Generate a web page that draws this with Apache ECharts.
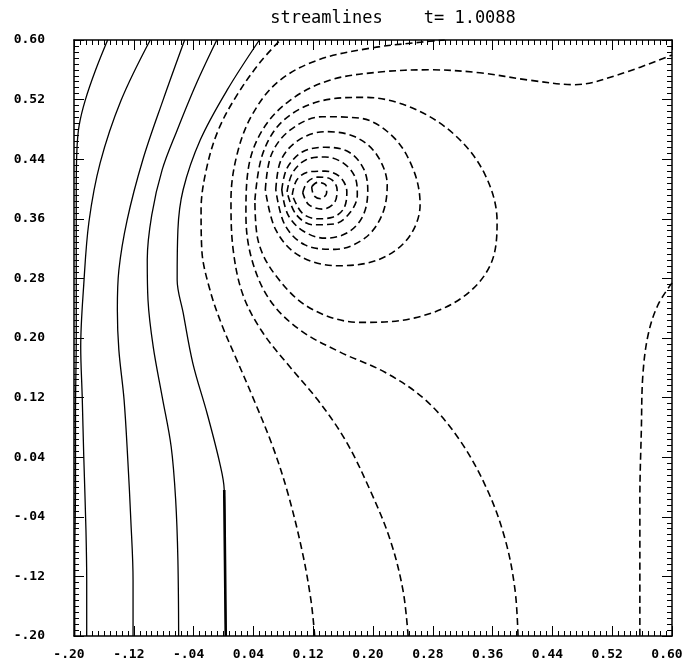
<!DOCTYPE html>
<html>
<head>
<meta charset="utf-8">
<script src="https://cdn.jsdelivr.net/npm/echarts@6/dist/echarts.min.js"></script>
<style>
html,body{margin:0;padding:0;background:#fff;}
#chart{width:688px;height:670px;}
</style>
</head>
<body>
<div id="chart"></div>
<script>
// ---- data ----
var titleText = 'streamlines    t= 1.0088';
var xTickLabels = ['-.20','-.12','-.04','0.04','0.12','0.20','0.28','0.36','0.44','0.52','0.60'];
var yTickLabels = ['-.20','-.12','-.04','0.04','0.12','0.20','0.28','0.36','0.44','0.52','0.60'];
var axisMin = -0.2, axisMax = 0.6, axisStep = 0.08;

// solid streamlines (positive levels)
var S1 = [[-0.155,0.600],[-0.171,0.560],[-0.185,0.519],[-0.193,0.486],[-0.196,0.455],[-0.197,0.400],[-0.197,0.300],[-0.197,0.200],[-0.198,0.100],[-0.198,0.000],[-0.199,-0.100],[-0.199,-0.200]];
var S2 = [[-0.098,0.600],[-0.137,0.519],[-0.165,0.435],[-0.180,0.356],[-0.187,0.271],[-0.191,0.188],[-0.189,0.121],[-0.187,0.043],[-0.184,-0.058],[-0.183,-0.125],[-0.183,-0.200]];
var S3 = [[-0.052,0.600],[-0.081,0.519],[-0.108,0.439],[-0.129,0.358],[-0.140,0.291],[-0.142,0.238],[-0.140,0.184],[-0.133,0.117],[-0.128,0.036],[-0.124,-0.044],[-0.121,-0.125],[-0.121,-0.200]];
var S4 = [[-0.009,0.600],[-0.037,0.540],[-0.062,0.479],[-0.082,0.426],[-0.096,0.365],[-0.102,0.305],[-0.101,0.251],[-0.094,0.188],[-0.082,0.121],[-0.070,0.054],[-0.064,-0.017],[-0.061,-0.098],[-0.060,-0.200]];
var S5 = [[0.048,0.600],[0.005,0.533],[-0.031,0.466],[-0.054,0.399],[-0.061,0.345],[-0.062,0.278],[-0.054,0.234],[-0.041,0.166],[-0.022,0.099],[-0.005,0.032],[0.001,-0.004],[0.002,-0.098],[0.003,-0.200]];

// dashed streamlines (negative levels), open curves
var D1 = [[0.122,-0.200],[0.117,-0.152],[0.105,-0.085],[0.086,-0.008],[0.066,0.054],[0.039,0.121],[0.015,0.177],[-0.002,0.217],[-0.018,0.264],[-0.029,0.318],[-0.030,0.372],[-0.023,0.426],[-0.007,0.479],[0.018,0.526],[0.049,0.570],[0.076,0.600]];
var D2 = [[0.247,-0.200],[0.240,-0.138],[0.223,-0.071],[0.196,-0.004],[0.163,0.063],[0.126,0.117],[0.089,0.161],[0.052,0.208],[0.026,0.258],[0.013,0.318],[0.010,0.385],[0.018,0.446],[0.038,0.499],[0.073,0.544],[0.126,0.573],[0.196,0.589],[0.263,0.597],[0.296,0.600]];
var D3 = [[0.394,-0.200],[0.390,-0.138],[0.377,-0.071],[0.353,-0.004],[0.316,0.063],[0.270,0.117],[0.216,0.154],[0.156,0.181],[0.102,0.211],[0.062,0.251],[0.038,0.305],[0.030,0.365],[0.033,0.426],[0.052,0.479],[0.089,0.519],[0.142,0.546],[0.209,0.557],[0.276,0.560],[0.343,0.556],[0.410,0.546],[0.470,0.540],[0.530,0.554],[0.600,0.580]];
var D4 = [[0.600,0.274],[0.581,0.244],[0.568,0.204],[0.561,0.150],[0.559,0.077],[0.557,-0.017],[0.557,-0.111],[0.557,-0.200]];

// dashed closed contours around the vortex
var L1 = [[0.118,0.403],[0.126,0.409],[0.137,0.405],[0.138,0.395],[0.130,0.387],[0.121,0.391],[0.118,0.403]];
var L2 = [[0.106,0.395],[0.112,0.409],[0.126,0.416],[0.144,0.413],[0.152,0.399],[0.148,0.381],[0.132,0.373],[0.114,0.379],[0.106,0.395]];
var L3 = [[0.092,0.392],[0.098,0.412],[0.114,0.423],[0.136,0.424],[0.156,0.416],[0.165,0.396],[0.161,0.374],[0.146,0.362],[0.125,0.360],[0.105,0.368],[0.092,0.392]];
var L4 = [[0.085,0.396],[0.092,0.421],[0.110,0.439],[0.136,0.443],[0.160,0.435],[0.176,0.416],[0.179,0.392],[0.169,0.368],[0.148,0.353],[0.120,0.352],[0.097,0.366],[0.085,0.396]];
var L5 = [[0.078,0.399],[0.085,0.428],[0.106,0.450],[0.136,0.456],[0.167,0.450],[0.187,0.428],[0.193,0.399],[0.187,0.365],[0.167,0.342],[0.136,0.334],[0.106,0.344],[0.086,0.366],[0.078,0.399]];
var L6 = [[0.070,0.399],[0.077,0.439],[0.101,0.466],[0.137,0.477],[0.176,0.470],[0.205,0.446],[0.219,0.405],[0.212,0.365],[0.189,0.334],[0.149,0.319],[0.109,0.325],[0.082,0.352],[0.070,0.399]];
var L7 = [[0.056,0.399],[0.064,0.446],[0.089,0.479],[0.132,0.497],[0.183,0.495],[0.227,0.470],[0.254,0.426],[0.263,0.379],[0.247,0.334],[0.207,0.305],[0.153,0.297],[0.102,0.310],[0.070,0.345],[0.056,0.399]];
var L8 = [[0.042,0.385],[0.052,0.446],[0.078,0.490],[0.126,0.517],[0.189,0.523],[0.252,0.509],[0.310,0.472],[0.350,0.419],[0.366,0.356],[0.357,0.298],[0.319,0.254],[0.256,0.227],[0.183,0.221],[0.116,0.240],[0.069,0.285],[0.046,0.332],[0.042,0.385]];

// thick lower segment of the fifth solid line
var S5thick = [[0.001,-0.004],[0.002,-0.098],[0.003,-0.200]];

var solidLines = [S1,S2,S3,S4,S5];
var dashedLines = [D1,D2,D3,D4,L1,L2,L3,L4,L5,L6,L7,L8];

// ---- chart ----
var chart = echarts.init(document.getElementById('chart'), null, {renderer:'canvas'});
function tickLabel(arr){
  return function(v){
    var i = Math.round((v - axisMin)/axisStep);
    return arr[i] !== undefined ? arr[i] : '';
  };
}
var labelFont = {fontFamily:'DejaVu Sans Mono', fontWeight:'bold', fontSize:13, color:'#000'};
function mkAxis(pos, showLabel, labels, isX){
  return {
    type:'value', position:pos, min:axisMin, max:axisMax, interval:axisStep,
    axisLine:{show:true, onZero:false, lineStyle:{color:'#000', width:1.5}},
    axisTick:{show:true, inside:true, length:10, lineStyle:{color:'#000', width:1}},
    minorTick:{show:true, splitNumber:10, length:5, lineStyle:{color:'#000', width:1}},
    splitLine:{show:false}, minorSplitLine:{show:false},
    axisLabel:Object.assign({show:showLabel, margin: isX ? 12 : 29, formatter:tickLabel(labels),
      padding: isX ? [0,10,0,0] : 0}, labelFont)
  };
}
var series = [];
solidLines.forEach(function(d, i){
  series.push({type:'line', name:'solid'+i, data:d, smooth:0.35, showSymbol:false, symbol:'none',
    lineStyle:{color:'#000', width:1.3, type:'solid'}, z:3, animation:false});
});
dashedLines.forEach(function(d, i){
  series.push({type:'line', name:'dash'+i, data:d, smooth:0.35, showSymbol:false, symbol:'none',
    lineStyle:{color:'#000', width:1.6, type:[7,4]}, z:3, animation:false});
});
series.push({type:'line', name:'thick', data:S5thick, smooth:0, showSymbol:false, symbol:'none',
  lineStyle:{color:'#000', width:2.6}, z:4, animation:false});

chart.setOption({
  animation:false,
  backgroundColor:'#fff',
  title:{text:titleText, left:388, top:5, textAlign:'center',
    textStyle:{fontFamily:'DejaVu Sans Mono', fontWeight:'normal', fontSize:17, color:'#000'}},
  grid:{left:74, right:16, top:40, bottom:34, containLabel:false},
  xAxis:[mkAxis('bottom', true, xTickLabels, true), mkAxis('top', false, xTickLabels, true)],
  yAxis:[mkAxis('left', true, yTickLabels, false), mkAxis('right', false, yTickLabels, false)],
  series:series
});
</script>
</body>
</html>
